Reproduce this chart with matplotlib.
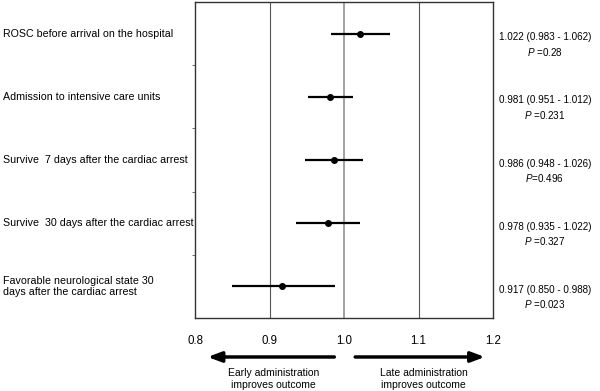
import matplotlib
import matplotlib.pyplot as plt
from matplotlib.transforms import blended_transform_factory

matplotlib.use('Agg')

plt.rcParams['font.family'] = ['Liberation Sans', 'DejaVu Sans']
plt.rcParams['mathtext.fontset'] = 'custom'
plt.rcParams['mathtext.rm'] = 'Liberation Sans'
plt.rcParams['mathtext.it'] = 'Liberation Sans:italic'

# data
outcomes = [
    "ROSC before arrival on the hospital",
    "Admission to intensive care units",
    "Survive  7 days after the cardiac arrest",
    "Survive  30 days after the cardiac arrest",
    "Favorable neurological state 30\ndays after the cardiac arrest",
]
odds = [1.022, 0.981, 0.986, 0.978, 0.917]
ci_low = [0.983, 0.951, 0.948, 0.935, 0.850]
ci_high = [1.062, 1.012, 1.026, 1.022, 0.988]
p_labels = ["$P$ =0.28", "$P$ =0.231", "$P$=0.496", "$P$ =0.327", "$P$ =0.023"]
x_ticks = [0.8, 0.9, 1.0, 1.1, 1.2]
x_tick_labels = ["0.8", "0.9", "1.0", "1.1", "1.2"]

FS = 7.5

fig = plt.figure(figsize=(6, 3.91), dpi=100)
ax = fig.add_axes([0.325, 0.187, 0.4967, 0.808])

rows = list(range(len(outcomes)))
ax.set_xlim(0.8, 1.2)
ax.set_ylim(len(outcomes) - 0.5, -0.5)

for x in [0.9, 1.1]:
    ax.axvline(x, color='#555555', lw=0.8, zorder=1)
ax.axvline(1.0, color='#9a9a9a', lw=1.3, zorder=1)

ax.hlines(rows, ci_low, ci_high, color='black', lw=1.6, zorder=3)
ax.plot(odds, rows, 'o', color='black', ms=4, zorder=4)

ax.set_xticks(x_ticks)
ax.set_xticklabels(x_tick_labels, fontsize=8.3)
ax.tick_params(axis='x', length=0, pad=12)
ax.set_yticks([r + 0.5 for r in rows[:-1]])
ax.set_yticklabels([])
ax.tick_params(axis='y', length=2.5, width=0.6, color='#555555')
for sp in ax.spines.values():
    sp.set_color('#333333')
    sp.set_linewidth(1.0)

trans = blended_transform_factory(fig.transFigure, ax.transData)
for r, name, o, lo, hi, p in zip(rows, outcomes, odds, ci_low, ci_high, p_labels):
    ax.text(0.005, r, name, transform=trans, ha='left', va='center',
            fontsize=7.7, linespacing=1.15)
    ax.text(0.908, r + 0.18, f"{o:.3f} ({lo:.3f} - {hi:.3f})\n{p}",
            transform=trans, ha='center', va='center', fontsize=7.1,
            linespacing=1.35)

# direction arrows below the axis
tr2 = blended_transform_factory(ax.transData, fig.transFigure)
arrow_style = dict(arrowstyle='-|>,head_length=0.8,head_width=0.3',
                   color='black', lw=2.5, shrinkA=0, shrinkB=0)
ax.annotate('', xy=(0.817, 0.087), xytext=(0.987, 0.087),
            xycoords=tr2, textcoords=tr2, arrowprops=arrow_style,
            annotation_clip=False)
ax.annotate('', xy=(1.189, 0.087), xytext=(1.015, 0.087),
            xycoords=tr2, textcoords=tr2, arrowprops=arrow_style,
            annotation_clip=False)
ax.text(0.905, 0.031, "Early administration\nimproves outcome", transform=tr2,
        ha='center', va='center', fontsize=FS, linespacing=1.3)
ax.text(1.107, 0.031, "Late administration\nimproves outcome", transform=tr2,
        ha='center', va='center', fontsize=FS, linespacing=1.3)

fig.savefig('out.png', dpi=100)
